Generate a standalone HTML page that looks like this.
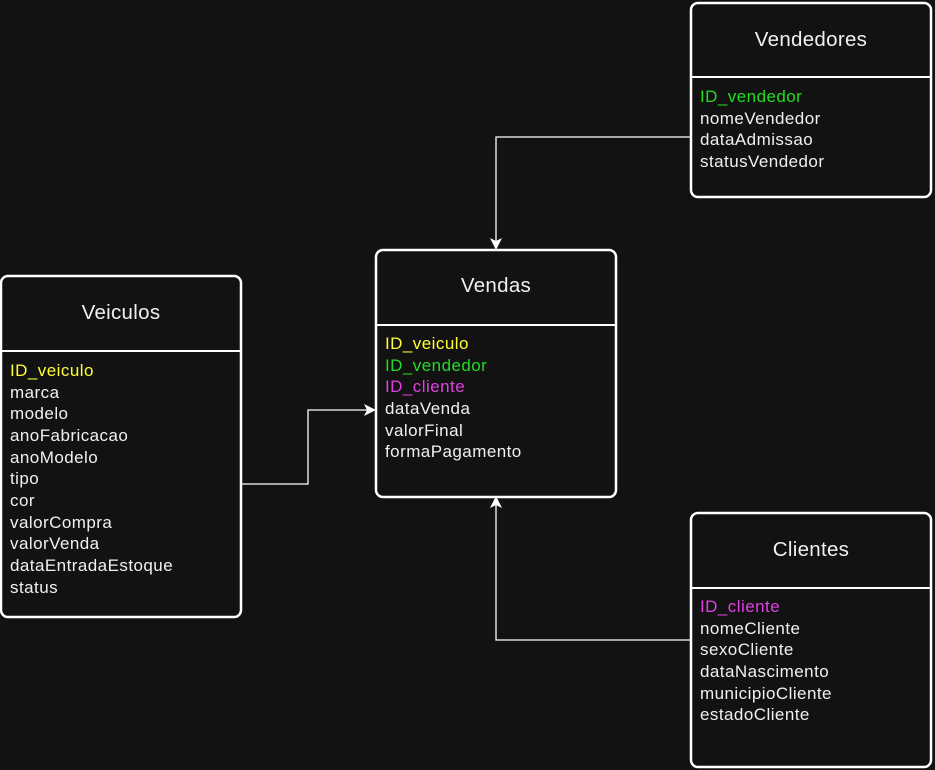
<!DOCTYPE html>
<html><head><meta charset="utf-8"><style>
html,body{margin:0;padding:0;background:#121212;}
svg{display:block}
text{font-family:"Liberation Sans",sans-serif;font-size:17px;letter-spacing:0.45px;fill:#f0f0f0}
.h{font-size:20.5px;letter-spacing:0.3px;text-anchor:middle}
</style></head><body>
<svg width="935" height="770" viewBox="0 0 935 770">
<defs><marker id="a" markerWidth="12" markerHeight="12" refX="10" refY="6" orient="auto" markerUnits="userSpaceOnUse"><path d="M0,0 L12,6 L0,12 L3,6 z" fill="#fff"/></marker></defs>
<g fill="none" stroke="#fff" stroke-width="1.3">
<path d="M691,137 H496 V248" marker-end="url(#a)"/>
<path d="M241,484 H308 V410 H374" marker-end="url(#a)"/>
<path d="M691,640 H496 V498" marker-end="url(#a)"/>
</g>
<g fill="#121212" stroke="#fff" stroke-width="2.5">
<rect x="376" y="250" width="240" height="247" rx="7"/>
<rect x="1" y="276" width="240" height="341" rx="7"/>
<rect x="691" y="3" width="240" height="194" rx="7"/>
<rect x="691" y="513" width="240" height="254" rx="7"/>
</g>
<g stroke="#fff" stroke-width="2">
<line x1="376" y1="325" x2="616" y2="325"/>
<line x1="1" y1="351" x2="241" y2="351"/>
<line x1="691" y1="77" x2="931" y2="77"/>
<line x1="691" y1="588" x2="931" y2="588"/>
</g>
<text class="h" x="496" y="292">Vendas</text>
<text class="h" x="121" y="319">Veiculos</text>
<text class="h" x="811" y="46">Vendedores</text>
<text class="h" x="811" y="556">Clientes</text>
<g>
<text x="385" y="349" style="fill:#ffff33">ID_veiculo</text>
<text x="385" y="371" style="fill:#22dd22">ID_vendedor</text>
<text x="385" y="392" style="fill:#e040e0">ID_cliente</text>
<text x="385" y="414">dataVenda</text>
<text x="385" y="436">valorFinal</text>
<text x="385" y="457">formaPagamento</text>
</g>
<g>
<text x="10" y="376" style="fill:#ffff33">ID_veiculo</text>
<text x="10" y="398">marca</text>
<text x="10" y="419">modelo</text>
<text x="10" y="441">anoFabricacao</text>
<text x="10" y="463">anoModelo</text>
<text x="10" y="484">tipo</text>
<text x="10" y="506">cor</text>
<text x="10" y="528">valorCompra</text>
<text x="10" y="549">valorVenda</text>
<text x="10" y="571">dataEntradaEstoque</text>
<text x="10" y="593">status</text>
</g>
<g>
<text x="700" y="102" style="fill:#22dd22">ID_vendedor</text>
<text x="700" y="124">nomeVendedor</text>
<text x="700" y="145">dataAdmissao</text>
<text x="700" y="167">statusVendedor</text>
</g>
<g>
<text x="700" y="612" style="fill:#e040e0">ID_cliente</text>
<text x="700" y="634">nomeCliente</text>
<text x="700" y="655">sexoCliente</text>
<text x="700" y="677">dataNascimento</text>
<text x="700" y="699">municipioCliente</text>
<text x="700" y="720">estadoCliente</text>
</g>
</svg>
</body></html>
